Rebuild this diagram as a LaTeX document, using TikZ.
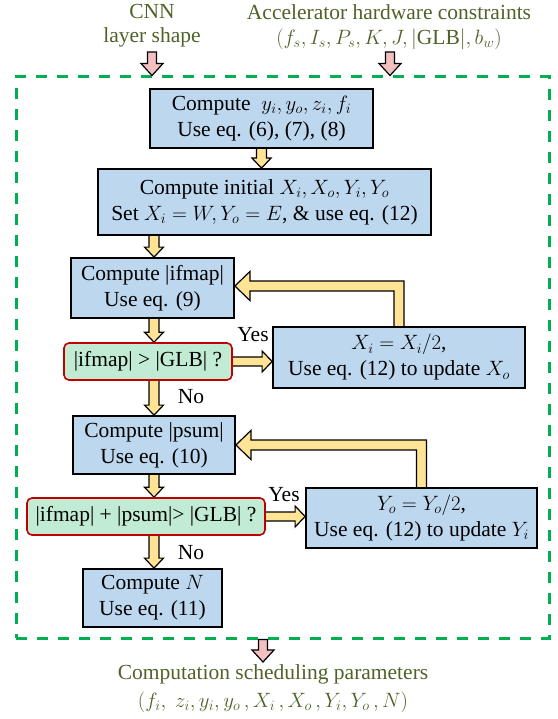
\documentclass[tikz,border=0pt]{standalone}
\usepackage{fontspec}
\setmainfont{Liberation Serif}
\usetikzlibrary{calc,backgrounds}
\definecolor{boxblue}{RGB}{189,215,238}
\definecolor{decgreen}{RGB}{193,235,210}
\definecolor{decred}{RGB}{192,0,0}
\definecolor{arryellow}{RGB}{255,228,150}
\definecolor{arrpink}{RGB}{242,192,192}
\definecolor{framegreen}{RGB}{0,176,80}
\definecolor{txtgreen}{RGB}{79,98,40}
\tikzset{
  every node/.style={font=\fontsize{21.5}{26}\selectfont},
  procbox/.style={draw=black, line width=1.8pt, fill=boxblue, align=center, inner sep=0pt},
  decbox/.style={draw=decred, line width=1.6pt, fill=decgreen, rounded corners=5pt, align=center, inner sep=0pt},
  blockarrow/.style={draw=black, line width=1.2pt, fill=arryellow, line join=miter},
  pinkarrow/.style={blockarrow, fill=arrpink},
  outtext/.style={text=txtgreen, align=center, inner sep=0pt},
  lbl/.style={inner sep=0pt},
  frame/.style={draw=framegreen, line width=3pt, dash pattern=on 11pt off 10pt, inner sep=0pt},
}
% #1 style, #2 from, #3 to, #4 shaft half width, #5 head half width, #6 head length
\newcommand{\arrdown}[6]{\path[#1] let \p1=(#2), \p2=(#3) in
  (\x1-#4,\y1) -- (\x1-#4,\y2+#6) -- (\x1-#5,\y2+#6) -- (\x1,\y2) --
  (\x1+#5,\y2+#6) -- (\x1+#4,\y2+#6) -- (\x1+#4,\y1) -- cycle;}
\newcommand{\arrright}[6]{\path[#1] let \p1=(#2), \p2=(#3) in
  (\x1,\y1+#4) -- (\x2-#6,\y1+#4) -- (\x2-#6,\y1+#5) -- (\x2,\y1) --
  (\x2-#6,\y1-#5) -- (\x2-#6,\y1-#4) -- (\x1,\y1-#4) -- cycle;}
\newcommand{\arrback}[6]{\path[#1] let \p1=(#2), \p2=(#3) in
  (\x1-#4,\y1) -- (\x1-#4,\y2-#4) -- (\x2+#6,\y2-#4) -- (\x2+#6,\y2-#5) --
  (\x2,\y2) -- (\x2+#6,\y2+#5) -- (\x2+#6,\y2+#4) -- (\x1+#4,\y2+#4) --
  (\x1+#4,\y1) -- cycle;}
\begin{document}
\begin{tikzpicture}[x=1pt,y=-1pt]
\useasboundingbox (0,0) rectangle (557,719);

% frame
\node[frame, minimum width=533pt, minimum height=561pt] (frame) at (282.5,357.5) {};

% inputs / outputs
\node[outtext, font=\fontsize{21.5}{24}\selectfont] (cnn) at (152,26) {CNN\\layer shape};
\node[outtext, font=\fontsize{21.5}{25}\selectfont] (hw) at (389,27) {Accelerator hardware constraints\\$(f_s, I_s, P_s, K, J, |\mathrm{GLB}|, b_w)$};
\node[outtext, font=\fontsize{21.5}{28}\selectfont] (out) at (273,689) {Computation scheduling parameters\\$(f_i,\ z_i, y_i, y_o\,, X_i\,, X_o\,, Y_i, Y_o\,, N)$};

% process nodes
\node[procbox, minimum width=223pt, minimum height=59pt] (b1) at (261.5,118.5) {Compute \ $y_i, y_o, z_i, f_i$\\Use eq. (6), (7), (8)};
\node[procbox, minimum width=333pt, minimum height=66pt] (b2) at (264.5,202) {Compute initial $X_i, X_o, Y_i, Y_o$\\Set $X_i = W, Y_o = E$, \& use eq. (12)};
\node[procbox, minimum width=163pt, minimum height=60pt] (b3) at (152.5,288) {Compute |ifmap|\\Use eq. (9)};
\node[decbox, minimum width=168pt, minimum height=37pt] (d1) at (148,361.5) {|ifmap| > |GLB| ?};
\node[procbox, minimum width=252pt, minimum height=61pt] (b4) at (399,357.5) {$X_i = X_i/2$,\\Use eq. (12) to update $X_o$};
\node[procbox, minimum width=162pt, minimum height=58pt] (b5) at (154,445) {Compute |psum|\\Use eq. (10)};
\node[decbox, minimum width=238pt, minimum height=37pt] (d2) at (146,516.5) {|ifmap| + |psum|> |GLB| ?};
\node[procbox, minimum width=231pt, minimum height=60pt] (b6) at (421.5,518) {$Y_o = Y_o/2$,\\Use eq. (12) to update $Y_i$};
\node[procbox, minimum width=139pt, minimum height=58pt] (b7) at (152.5,598) {Compute $N$\\Use eq. (11)};

% labels
\node[lbl] (yes1) at (253,335) {Yes};
\node[lbl] (yes2) at (284,495) {Yes};
\node[lbl] (no1) at (191,397) {No};
\node[lbl] (no2) at (191,553) {No};

\coordinate (col) at (154,0);
\coordinate (p1s) at (152,52);
\coordinate (p2s) at (390,52);
\coordinate (p3t) at (263,662);

% yellow connectors (behind boxes)
\begin{pgfonlayer}{background}
\arrdown{blockarrow}{$(b1.south)+(0,-2)$}{b2.north}{5pt}{9.5pt}{10pt}
\arrdown{blockarrow}{$(col |- b2.south)+(0,-2)$}{col |- b3.north}{5pt}{9.5pt}{10pt}
\arrdown{blockarrow}{$(col |- b3.south)+(0,-2)$}{col |- d1.north}{5pt}{9.5pt}{10pt}
\arrdown{blockarrow}{$(col |- d1.south)+(0,-2)$}{col |- b5.north}{5pt}{9.5pt}{10pt}
\arrdown{blockarrow}{$(col |- b5.south)+(0,-2)$}{col |- d2.north}{5pt}{9.5pt}{10pt}
\arrdown{blockarrow}{$(col |- d2.south)+(0,-2)$}{col |- b7.north}{5pt}{9.5pt}{10pt}
\arrright{blockarrow}{$(d1.east)+(-2,0)$}{b4.west |- d1.east}{4.5pt}{10.5pt}{10pt}
\arrright{blockarrow}{$(d2.east)+(-2,0)$}{b6.west |- d2.east}{4.5pt}{10.5pt}{10pt}
\arrback{blockarrow}{$(b4.north)+(0,2)$}{$(b3.east)+(0,-2)$}{5pt}{14.5pt}{15pt}
\arrback{blockarrow}{$(b6.north)+(0,2)$}{b5.east}{5pt}{14.5pt}{15pt}
\end{pgfonlayer}

% pink in/out arrows
\arrdown{pinkarrow}{p1s}{p1s |- frame.north}{4.5pt}{11pt}{12pt}
\arrdown{pinkarrow}{p2s}{p2s |- frame.north}{4.5pt}{11pt}{12pt}
\arrdown{pinkarrow}{p3t |- frame.south}{p3t}{4.5pt}{11pt}{12pt}
\end{tikzpicture}
\end{document}
